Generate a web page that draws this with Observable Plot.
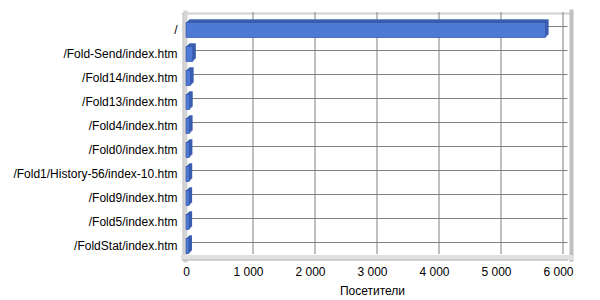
<!DOCTYPE html>
<html>
<head>
<meta charset="utf-8">
<script src="https://cdn.jsdelivr.net/npm/d3@7"></script>
<script src="https://cdn.jsdelivr.net/npm/@observablehq/plot@0.6"></script>
<style>
  html, body { margin: 0; padding: 0; background: #ffffff; }
</style>
</head>
<body>
<div id="chart"></div>
<script>
const categories = [
  "/",
  "/Fold-Send/index.htm",
  "/Fold14/index.htm",
  "/Fold13/index.htm",
  "/Fold4/index.htm",
  "/Fold0/index.htm",
  "/Fold1/History-56/index-10.htm",
  "/Fold9/index.htm",
  "/Fold5/index.htm",
  "/FoldStat/index.htm"
];
const visitors = [5800, 110, 75, 60, 58, 55, 52, 50, 50, 48];
const xTicks = [0, 1000, 2000, 3000, 4000, 5000, 6000];
const xLabel = "Посетители";

const data = categories.map((c, i) => ({page: c, value: visitors[i]}));
const ru = d3.formatLocale({decimal: ",", thousands: "\u00a0", grouping: [3], currency: ["", ""]});
const fmt = ru.format(",d");

const front = "#4e7ad6";
const side = "#3a5db0";

const chart = Plot.plot({
  width: 600,
  height: 300,
  marginLeft: 186,
  marginRight: 42,
  marginTop: 18,
  marginBottom: 42,
  style: {fontFamily: "'Liberation Sans', Arial, sans-serif", fontSize: "12px", background: "#ffffff", color: "#000000"},
  x: {domain: [0, 6000], ticks: xTicks, tickFormat: fmt, tickSize: 0, tickPadding: 9,
      label: xLabel, labelAnchor: "center", labelArrow: "none", labelOffset: 36},
  y: {domain: categories, paddingInner: 0.36, paddingOuter: 0.18, align: 0.5, round: false,
      tickSize: 0, tickPadding: 9, label: null},
  marks: [
    // top wall edge
    Plot.frame({anchor: "top", stroke: "#d0d0d0", strokeWidth: 2, dy: -5, insetLeft: -3, insetRight: -12}),
    // left wall
    Plot.frame({anchor: "left", stroke: "#d4d4d4", strokeWidth: 4, dx: -1, insetTop: -6, insetBottom: -2}),
    Plot.frame({anchor: "left", stroke: "#b4b4b4", strokeWidth: 1, dx: -3.5, insetTop: -5, insetBottom: -2}),
    // back-wall gridlines
    Plot.ruleX(xTicks.filter(t => t > 0), {x: d => d, stroke: "#808080", strokeWidth: 1, dx: 4.5, dy: -4, insetTop: -2}),
    Plot.ruleY(data, {y: "page", x1: () => 0, x2: () => 6090, stroke: "#808080", strokeWidth: 1, dx: 4, dy: -4}),
    // right wall
    Plot.frame({anchor: "right", stroke: "#c0c0c0", strokeWidth: 4, dx: 13, insetTop: -7, insetBottom: -1}),
    // floor
    Plot.frame({anchor: "bottom", stroke: "#e0e0e0", strokeWidth: 5, dy: -1, insetLeft: -3, insetRight: -13}),
    Plot.frame({anchor: "bottom", stroke: "#b0b0b0", strokeWidth: 1, dy: 1.5, insetLeft: -3, insetRight: -9}),
    // bars: depth then front face
    Plot.barX(data, {x: "value", y: "page", fill: side, dx: 3, dy: -3}),
    Plot.barX(data, {x: "value", y: "page", fill: side, dx: 2, dy: -2}),
    Plot.barX(data, {x: "value", y: "page", fill: side, dx: 1, dy: -1}),
    Plot.barX(data, {x: "value", y: "page", fill: front, stroke: "#3352a0", strokeWidth: 0.6})
  ]
});
document.getElementById("chart").appendChild(chart);
</script>
</body>
</html>
